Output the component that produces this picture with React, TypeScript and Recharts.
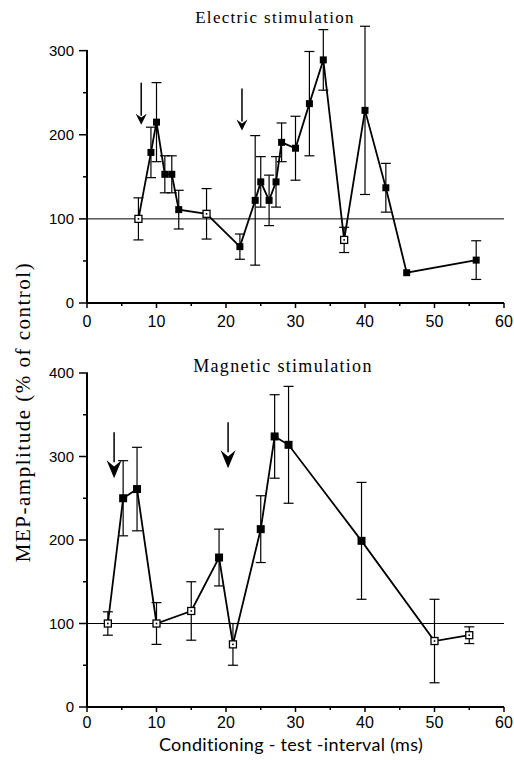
import React from 'react';
import { ComposedChart, Line, XAxis, YAxis, ErrorBar, ReferenceLine, ReferenceDot } from 'recharts';

// Electric stimulation (upper panel)
const elecX = [7.4, 9.2, 10, 11.2, 12.2, 13.2, 17.2, 22, 24.2, 25, 26.2, 27.2, 28, 30, 32, 34, 37, 40, 43, 46, 56];
const elecY = [100, 179, 215, 153, 153, 111, 106, 67, 122, 144, 122, 144, 191, 184, 237, 289, 75, 229, 137, 36, 51];
const elecErr = [25, 30, 47, 22, 22, 23, 30, 15, 77, 30, 30, 30, 23, 38, 62, 36, 15, 100, 29, 0, 23];
const elecOpen = [true, false, false, false, false, false, true, false, false, false, false, false, false, false, false, false, true, false, false, false, false];
const elecArrowX = [7.8, 22.3];
const elecArrowY = [212, 205];

// Magnetic stimulation (lower panel)
const magX = [3, 5.2, 7.2, 10, 15, 19, 21, 25, 27, 29, 39.5, 50, 55];
const magY = [100, 250, 261, 100, 115, 179, 75, 213, 324, 314, 199, 79, 86];
const magErr = [14, 45, 50, 25, 35, 34, 25, 40, 50, 70, 70, 50, 10];
const magOpen = [true, false, false, true, true, false, true, false, false, false, false, true, true];
const magArrowX = [3.9, 20.3];
const magArrowY = [274, 286];

const xTicks = [0, 5, 10, 15, 20, 25, 30, 35, 40, 45, 50, 55, 60];
const elecYTicks = [0, 50, 100, 150, 200, 250, 300];
const magYTicks = [0, 50, 100, 150, 200, 250, 300, 350, 400];

const tickFont = "'Liberation Sans', Arial, sans-serif";
const serif = "'Liberation Serif', serif";

const rows = (xs: number[], ys: number[], errs: number[], open: boolean[]) =>
  xs.map((x, i) => ({ x, y: ys[i], err: errs[i], open: open[i] }));

const elecRows = rows(elecX, elecY, elecErr, elecOpen);
const magRows = rows(magX, magY, magErr, magOpen);

function YTick(props: any) {
  const { x, y, payload } = props;
  const major = payload.value % 100 === 0;
  return (
    <g>
      <line x1={x - (major ? 8 : 4)} x2={x + 1} y1={y} y2={y} stroke="#000" strokeWidth={1.5} />
      {major && (
        <text x={x - 13} y={y} dy="0.36em" textAnchor="end" fontFamily={tickFont} fontSize={15} fill="#000">
          {payload.value}
        </text>
      )}
    </g>
  );
}

const makeXTick = (labelDy: number) => (props: any) => {
  const { x, y, payload } = props;
  const major = payload.value % 10 === 0;
  return (
    <g>
      <line x1={x} x2={x} y1={y} y2={y + (major ? 5 : 3)} stroke="#000" strokeWidth={1.5} />
      {major && (
        <text x={x} y={y + labelDy} textAnchor="middle" fontFamily={tickFont} fontSize={16} fill="#000">
          {payload.value}
        </text>
      )}
    </g>
  );
};

const squareDot = (filledSize: number, openSize: number) => (props: any) => {
  const { cx, cy, payload, index } = props;
  if (cx == null || cy == null) return <g key={`d-${index}`} />;
  if (payload.open) {
    const s = openSize;
    return (
      <g key={`d-${index}`}>
        <rect x={cx - s / 2} y={cy - s / 2} width={s} height={s} fill="#fff" stroke="#000" strokeWidth={1.3} />
        <rect x={cx - 0.8} y={cy - 0.8} width={1.6} height={1.6} fill="#000" />
      </g>
    );
  }
  const s = filledSize;
  return <rect key={`d-${index}`} x={cx - s / 2} y={cy - s / 2} width={s} height={s} fill="#000" />;
};

const arrowShape = (len: number, head: number, w: number) => (props: any) => {
  const { cx, cy } = props;
  return (
    <g>
      <line x1={cx} x2={cx} y1={cy - len} y2={cy - head + 2} stroke="#000" strokeWidth={1.5} />
      <path
        d={`M${cx - w / 2},${cy - head} L${cx},${cy - head * 0.65} L${cx + w / 2},${cy - head} L${cx},${cy} Z`}
        fill="#000"
      />
    </g>
  );
};

type PanelProps = {
  data: { x: number; y: number; err: number; open: boolean }[];
  yMax: number;
  yTop: number;
  yTicks: number[];
  height: number;
  marginTop: number;
  xLabelDy: number;
  arrowX: number[];
  arrowY: number[];
  arrow: [number, number, number];
  dotSizes: [number, number];
};

function Panel(p: PanelProps) {
  return (
    <ComposedChart
      width={514}
      height={p.height}
      data={p.data}
      margin={{ top: p.marginTop, right: 10, bottom: 0, left: 0 }}
    >
      <XAxis
        type="number"
        dataKey="x"
        domain={[0, 60]}
        ticks={xTicks}
        interval={0}
        height={30}
        axisLine={{ stroke: '#000', strokeWidth: 2 }}
        tickLine={false}
        tickSize={0}
        tickMargin={0}
        tick={makeXTick(p.xLabelDy)}
      />
      <YAxis
        type="number"
        domain={[0, p.yMax]}
        ticks={p.yTicks}
        interval={0}
        width={87}
        axisLine={false}
        tickLine={false}
        tickSize={0}
        tickMargin={0}
        tick={YTick}
      />
      <ReferenceLine segment={[{ x: 0, y: 0 }, { x: 0, y: p.yTop }]} stroke="#000" strokeWidth={2} />
      <ReferenceLine y={100} stroke="#000" strokeWidth={1} />
      {p.arrowX.map((ax, i) => (
        <ReferenceDot
          key={`a-${i}`}
          x={ax}
          y={p.arrowY[i]}
          r={1}
          ifOverflow="visible"
          shape={arrowShape(p.arrow[0], p.arrow[1], p.arrow[2])}
        />
      ))}
      <Line
        type="linear"
        dataKey="y"
        stroke="#000"
        strokeWidth={1.8}
        dot={squareDot(p.dotSizes[0], p.dotSizes[1])}
        activeDot={false}
        isAnimationActive={false}
      >
        <ErrorBar dataKey="err" direction="y" width={5} stroke="#000" strokeWidth={1.2} />
      </Line>
    </ComposedChart>
  );
}

export default function App() {
  return (
    <div style={{ position: 'absolute', left: 0, top: 0, width: 514, height: 764, background: '#fff' }}>
      <div style={{ position: 'absolute', left: 0, top: 0 }}>
        <Panel
          data={elecRows}
          yMax={340}
          yTop={300}
          yTicks={elecYTicks}
          height={333}
          marginTop={17}
          xLabelDy={24}
          arrowX={elecArrowX}
          arrowY={elecArrowY}
          arrow={[42, 11, 11]}
          dotSizes={[7, 7]}
        />
      </div>
      <div style={{ position: 'absolute', left: 0, top: 340 }}>
        <Panel
          data={magRows}
          yMax={400}
          yTop={400}
          yTicks={magYTicks}
          height={397}
          marginTop={33}
          xLabelDy={21}
          arrowX={magArrowX}
          arrowY={magArrowY}
          arrow={[46, 18, 15]}
          dotSizes={[8, 7]}
        />
      </div>
      <svg width={514} height={764} style={{ position: 'absolute', left: 0, top: 0, pointerEvents: 'none' }}>
        <text x={275} y={23} textAnchor="middle" fontFamily={serif} fontSize={17} letterSpacing={1.3} fill="#000">
          Electric stimulation
        </text>
        <text x={283} y={372} textAnchor="middle" fontFamily={serif} fontSize={18} letterSpacing={1.3} fill="#000">
          Magnetic stimulation
        </text>
        <text x={291} y={751} textAnchor="middle" fontFamily="Lato, sans-serif" fontSize={18} letterSpacing={0.3} fill="#000">
          Conditioning - test -interval (ms)
        </text>
        <text
          transform="translate(30,412) rotate(-90)"
          textAnchor="middle"
          fontFamily={serif}
          fontSize={21}
          letterSpacing={1.5}
          fill="#000"
        >
          MEP-amplitude (% of control)
        </text>
      </svg>
    </div>
  );
}
